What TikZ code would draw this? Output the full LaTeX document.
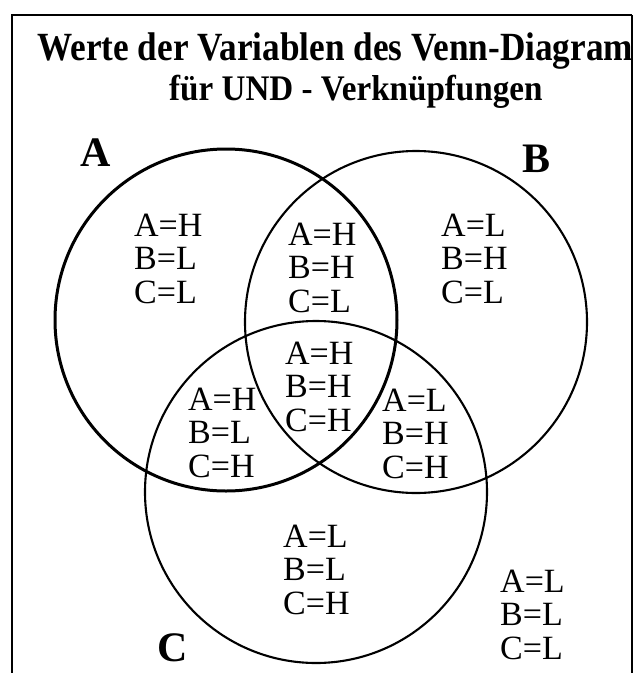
\documentclass[tikz,border=0pt]{standalone}
\usepackage{fontspec}
\setmainfont{Liberation Serif}
\usepackage{graphicx}
\begin{document}
\begin{tikzpicture}[x=1pt,y=-1pt,
  frameline/.style={line width=2.6pt},
  frameright/.style={line width=1.1pt},
  setA/.style={line width=3pt},
  setB/.style={line width=2.1pt},
  setC/.style={line width=2.1pt},
  setlabel/.style={anchor=base west,inner sep=0pt,font=\fontsize{42}{42}\selectfont\bfseries},
  valtext/.style={anchor=base west,inner sep=0pt,font=\fontsize{34}{34}\selectfont},
  titletext/.style={anchor=base west,inner sep=0pt}]
\useasboundingbox (0,0) rectangle (634,673);
% frame
\coordinate (fbl) at (12,673);
\coordinate (ftl) at (12,15);
\coordinate (ftr) at (632,15);
\coordinate (fbr) at (632,673);
\draw[frameline] (fbl) -- (ftl) -- (ftr);
\draw[frameright] (ftr) -- (fbr);
% title
\node[titletext] (title1) at (37,60) {\scalebox{0.88}[1]{\fontsize{40}{40}\selectfont\bfseries Werte der Variablen des Venn-Diagram}};
\node[titletext] (title2) at (169,100) {\scalebox{0.92}[1]{\fontsize{36}{36}\selectfont\bfseries für UND - Verknüpfungen}};
% circles
\coordinate (cA) at (226,320);
\coordinate (cB) at (416,322);
\coordinate (cC) at (316,492);
\draw[setA] (cA) circle[radius=171pt];
\draw[setB] (cB) circle[radius=171pt];
\draw[setC] (cC) circle[radius=171pt];
% set labels
\node[setlabel] (labA) at (80,166) {A};
\node[setlabel] (labB) at (522,172) {B};
\node[setlabel] (labC) at (157,661) {C};
% region values
\newcommand\regionvals[6]{%
  \node[valtext] (#1a) at (#2,#3) {#4};
  \node[valtext] (#1b) at (#2,#3+33.5) {#5};
  \node[valtext] (#1c) at (#2,#3+67) {#6};}
\regionvals{ra}{134}{236}{A=H}{B=L}{C=L}
\regionvals{rab}{288}{245}{A=H}{B=H}{C=L}
\regionvals{rb}{441}{236}{A=L}{B=H}{C=L}
\regionvals{rabc}{285}{364}{A=H}{B=H}{C=H}
\regionvals{rac}{188}{410}{A=H}{B=L}{C=H}
\regionvals{rbc}{382}{411}{A=L}{B=H}{C=H}
\regionvals{rc}{283}{547}{A=L}{B=L}{C=H}
\regionvals{rout}{500}{592}{A=L}{B=L}{C=L}
\end{tikzpicture}
\end{document}
